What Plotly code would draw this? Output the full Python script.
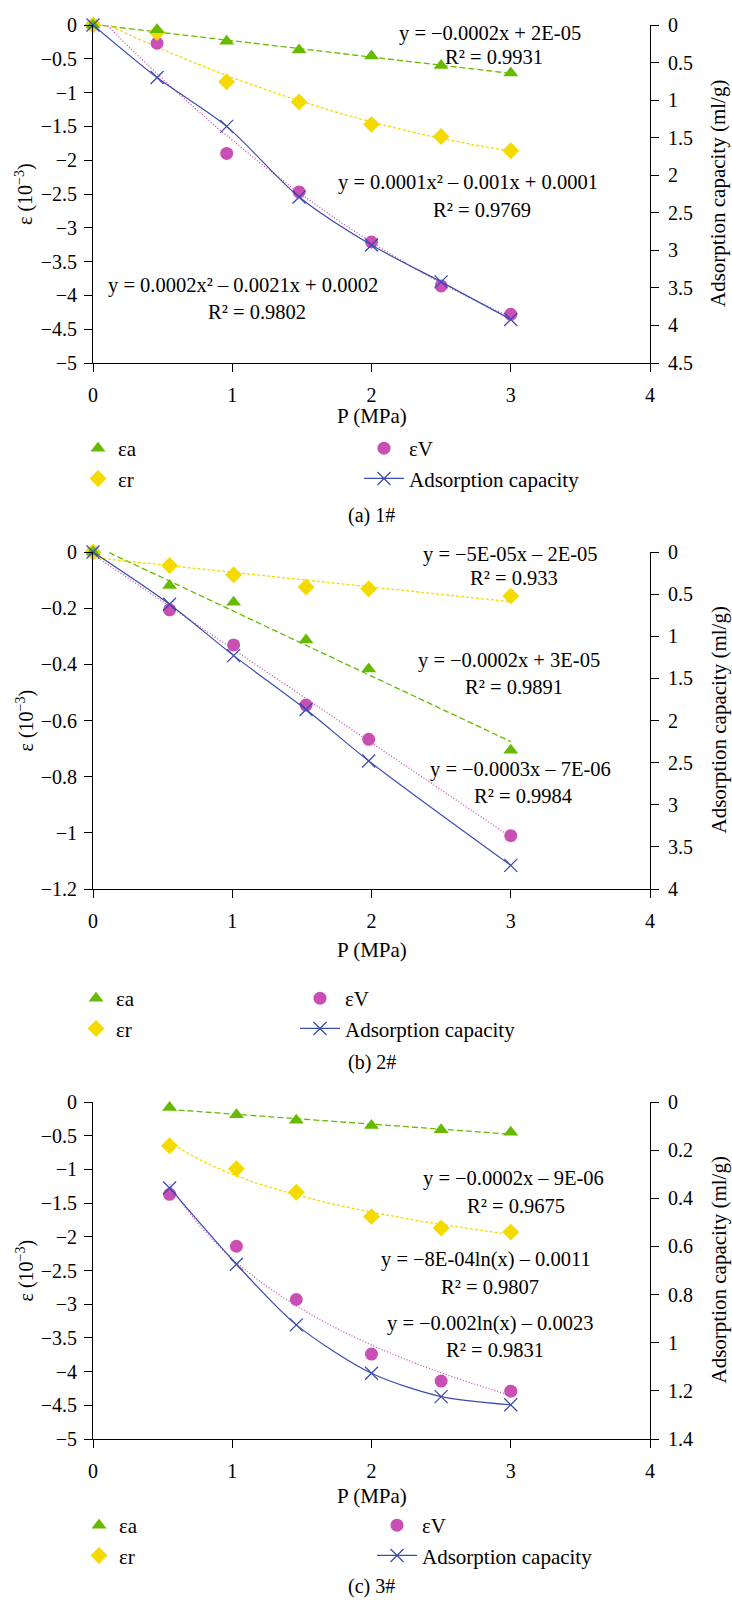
import numpy as np
import plotly.graph_objects as go

# ---------------- data ----------------
# Panel (a) 1#
P_a = [0, 0.46, 0.96, 1.48, 2.0, 2.5, 3.0]
ea_a = [0, -0.07, -0.24, -0.37, -0.46, -0.60, -0.71]
er_a = [0, -0.11, -0.84, -1.14, -1.47, -1.65, -1.86]
ev_a = [0, -0.27, -1.90, -2.47, -3.21, -3.86, -4.28]
ads_a = [0, 0.70, 1.35, 2.29, 2.93, 3.42, 3.92]

# Panel (b) 2#
P_b = [0, 0.55, 1.01, 1.53, 1.98, 3.0]
ea_b = [0, -0.119, -0.179, -0.313, -0.417, -0.706]
er_b = [0, -0.048, -0.081, -0.125, -0.131, -0.157]
ev_b = [0, -0.206, -0.331, -0.545, -0.667, -1.01]
ads_b = [0, 0.62, 1.23, 1.87, 2.48, 3.72]

# Panel (c) 3#
P_c = [0.55, 1.03, 1.46, 2.0, 2.5, 3.0]
ea_c = [-0.08, -0.19, -0.27, -0.35, -0.41, -0.45]
er_c = [-0.65, -0.99, -1.34, -1.70, -1.87, -1.93]
ev_c = [-1.37, -2.14, -2.93, -3.74, -4.14, -4.29]
ads_c = [0.357, 0.674, 0.926, 1.127, 1.224, 1.258]

captions = ["(a) 1#", "(b) 2#", "(c) 3#"]
x_title = "P (MPa)"
yl_title = "ε (10<sup>−3</sup>)"
yr_title = "Adsorption capacity (ml/g)"
names = ["εa", "εr", "εV", "Adsorption capacity"]

eq_a = [("y = −0.0002x + 2E-05", 2.85, -0.12), ("R² = 0.9931", 2.88, -0.47),
        ("y = 0.0001x² – 0.001x + 0.0001", 2.69, -2.33), ("R² = 0.9769", 2.79, -2.74),
        ("y = 0.0002x² – 0.0021x + 0.0002", 1.08, -3.86), ("R² = 0.9802", 1.18, -4.25)]
eq_b = [("y = −5E-05x – 2E-05", 3.0, -0.008), ("R² = 0.933", 3.02, -0.093),
        ("y = −0.0002x + 3E-05", 2.99, -0.387), ("R² = 0.9891", 3.02, -0.482),
        ("y = −0.0003x – 7E-06", 3.07, -0.774), ("R² = 0.9984", 3.09, -0.869)]
eq_c = [("y = −0.0002x – 9E-06", 3.02, -1.13), ("R² = 0.9675", 3.04, -1.55),
        ("y = −8E-04ln(x) – 0.0011", 2.82, -2.34), ("R² = 0.9807", 2.85, -2.75),
        ("y = −0.002ln(x) – 0.0023", 2.85, -3.28), ("R² = 0.9831", 2.89, -3.68)]

# ---------------- style ----------------
FONT = "Liberation Serif, Times New Roman, serif"
GREEN = "#66bb00"
YELLOW = "#f5da00"
MAGENTA = "#c94fb5"
BLUE = "#3c4bb0"
W, H = 732, 1602


def py(px):
    return 1 - px / H


def fnt(size):
    return dict(family=FONT, size=size, color="black")


def fit_curve(x, y, kind):
    x = np.asarray(x, float)
    y = np.asarray(y, float)
    xs = np.linspace(x.min(), x.max(), 120)
    if kind == "lin":
        c = np.polyfit(x, y, 1)
        ys = np.polyval(c, xs)
    elif kind == "quad":
        c = np.polyfit(x, y, 2)
        ys = np.polyval(c, xs)
    else:
        c = np.polyfit(np.log(x), y, 1)
        ys = c[0] * np.log(xs) + c[1]
    return xs, ys


panels = [
    dict(P=P_a, ea=ea_a, er=er_a, ev=ev_a, ads=ads_a, fits=("lin", "quad", "quad"),
         top=25, bot=363, yl=[-5, 0], ydt=0.5, yr=[4.5, 0], yrdt=0.5, eqs=eq_a,
         xt=416, leg=428, l1=78, l2=359, cap=515),
    dict(P=P_b, ea=ea_b, er=er_b, ev=ev_b, ads=ads_b, fits=("lin", "lin", "lin"),
         top=552, bot=889, yl=[-1.2, 0], ydt=0.2, yr=[4, 0], yrdt=0.5, eqs=eq_b,
         xt=950, leg=978, l1=76, l2=295, cap=1062),
    dict(P=P_c, ea=ea_c, er=er_c, ev=ev_c, ads=ads_c, fits=("lin", "log", "log"),
         top=1102, bot=1439, yl=[-5, 0], ydt=0.5, yr=[1.4, 0], yrdt=0.2, eqs=eq_c,
         xt=1496, leg=1505, l1=79, l2=372, cap=1586),
]

fig = go.Figure()
annotations = []
layout = {}
XD = [93 / W, 650 / W]
XC = (XD[0] + XD[1]) / 2

for i, p in enumerate(panels):
    xa = "x" if i == 0 else f"x{i+1}"
    yl = "y" if i == 0 else f"y{2*i+1}"
    yr = f"y{2*i+2}"
    lg1 = "legend" if i == 0 else f"legend{2*i+1}"
    lg2 = f"legend{2*i+2}"

    # trendlines
    for key, col, dash, kind in [("ea", GREEN, "6px,3px", p["fits"][0]),
                                 ("er", YELLOW, "3px,2px", p["fits"][1]),
                                 ("ev", MAGENTA, "1px,2px", p["fits"][2])]:
        xs, ys = fit_curve(p["P"], p[key], kind)
        fig.add_trace(go.Scatter(x=xs, y=ys, mode="lines", xaxis=xa, yaxis=yl,
                                 line=dict(color=col, width=1.3, dash=dash),
                                 showlegend=False, hoverinfo="skip"))
    # adsorption capacity
    fig.add_trace(go.Scatter(x=p["P"], y=p["ads"], mode="lines+markers", xaxis=xa, yaxis=yr,
                             name=names[3], legend=lg2, legendrank=2,
                             line=dict(color=BLUE, width=1.2, shape="spline", smoothing=0.8),
                             marker=dict(symbol="x-thin", size=13, line=dict(color=BLUE, width=1.3)),
                             cliponaxis=False))
    # markers
    fig.add_trace(go.Scatter(x=p["P"], y=p["ev"], mode="markers", xaxis=xa, yaxis=yl,
                             name=names[2], legend=lg2, legendrank=1,
                             marker=dict(symbol="circle", size=13, color=MAGENTA), cliponaxis=False))
    fig.add_trace(go.Scatter(x=p["P"], y=p["er"], mode="markers", xaxis=xa, yaxis=yl,
                             name=names[1], legend=lg1, legendrank=2,
                             marker=dict(symbol="diamond", size=13, color=YELLOW), cliponaxis=False))
    fig.add_trace(go.Scatter(x=p["P"], y=p["ea"], mode="markers", xaxis=xa, yaxis=yl,
                             name=names[0], legend=lg1, legendrank=1,
                             marker=dict(symbol="triangle-up", size=13, color=GREEN), cliponaxis=False))

    yd = [py(p["bot"]), py(p["top"])]
    axis_common = dict(showline=True, linecolor="black", linewidth=1, ticks="outside",
                       ticklen=8, tickwidth=1, tickcolor="black", showgrid=False,
                       zeroline=False, automargin=False, tickfont=fnt(20))
    layout["xaxis" if i == 0 else f"xaxis{i+1}"] = dict(
        axis_common, domain=XD, anchor=yl, range=[0, 4], dtick=1, tick0=0,
        ticklabelstandoff=6)
    layout["yaxis" if i == 0 else f"yaxis{2*i+1}"] = dict(
        axis_common, domain=yd, anchor=xa, range=p["yl"], dtick=p["ydt"], tick0=0,
        ticklabelstandoff=3)
    layout[f"yaxis{2*i+2}"] = dict(
        axis_common, domain=yd, anchor=xa, overlaying=yl, side="right",
        range=p["yr"], dtick=p["yrdt"], tick0=0, ticklabelstandoff=5)

    layout[lg1] = dict(x=p["l1"] / W, y=py(p["leg"]), xanchor="left", yanchor="top",
                       bgcolor="rgba(0,0,0,0)", font=fnt(21), traceorder="normal",
                       tracegroupgap=0)
    layout[lg2] = dict(x=p["l2"] / W, y=py(p["leg"]), xanchor="left", yanchor="top",
                       bgcolor="rgba(0,0,0,0)", font=fnt(21), traceorder="normal",
                       itemwidth=40, tracegroupgap=0)

    for txt, ax_x, ax_y in p["eqs"]:
        annotations.append(dict(text=txt, x=ax_x, y=ax_y, xref=xa, yref=yl,
                                showarrow=False, xanchor="center", yanchor="middle",
                                font=fnt(20.5)))
    ymid = py((p["top"] + p["bot"]) / 2)
    annotations.append(dict(text=yl_title, x=25 / W, y=ymid, xref="paper", yref="paper",
                            textangle=-90, showarrow=False, xanchor="center",
                            yanchor="middle", font=fnt(20)))
    annotations.append(dict(text=yr_title, x=718 / W, y=ymid, xref="paper", yref="paper",
                            textangle=-90, showarrow=False, xanchor="center",
                            yanchor="middle", font=fnt(21)))
    annotations.append(dict(text=x_title, x=XC, y=py(p["xt"]), xref="paper", yref="paper",
                            showarrow=False, xanchor="center", yanchor="middle",
                            font=fnt(21)))
    annotations.append(dict(text=captions[i], x=XC, y=py(p["cap"]),
                            xref="paper", yref="paper", showarrow=False,
                            xanchor="center", yanchor="middle", font=fnt(20)))

fig.update_layout(width=W, height=H, margin=dict(l=0, r=0, t=0, b=0),
                  plot_bgcolor="white", paper_bgcolor="white",
                  annotations=annotations, **layout)

fig.write_html("out.html")
